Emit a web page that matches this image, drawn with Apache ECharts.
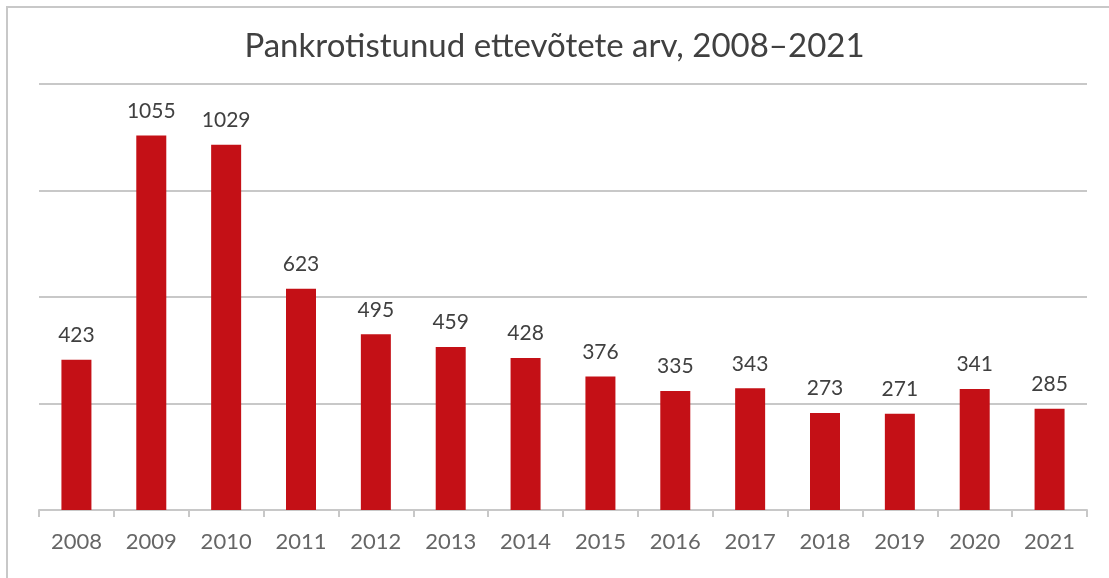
<!DOCTYPE html>
<html>
<head>
<meta charset="utf-8">
<script src="https://cdn.jsdelivr.net/npm/echarts@6/dist/echarts.min.js"></script>
<style>
html,body{margin:0;padding:0;background:#fff;}
#chart{width:1109px;height:578px;}
</style>
</head>
<body>
<div id="chart"></div>
<script>
const categories = ["2008","2009","2010","2011","2012","2013","2014","2015","2016","2017","2018","2019","2020","2021"];
const values = [423,1055,1029,623,495,459,428,376,335,343,273,271,341,285];
const titleText = "Pankrotistunud ettevõtete arv, 2008–2021";

const chart = echarts.init(document.getElementById('chart'));
chart.setOption({
  animation: false,
  backgroundColor: '#ffffff',
  title: {
    text: titleText,
    left: 'center',
    top: 25,
    textStyle: {fontFamily: 'Lato', fontWeight: 'normal', fontSize: 33, color: '#404040'}
  },
  graphic: [{
    type: 'rect',
    shape: {x: 7, y: 7, width: 1300, height: 800},
    style: {fill: 'none', stroke: '#c8c8c8', lineWidth: 2},
    silent: true
  }],
  grid: {left: 39, right: 22, top: 84, bottom: 68, containLabel: false},
  xAxis: {
    type: 'category',
    data: categories,
    axisLine: {lineStyle: {color: '#c8c8c8', width: 2}},
    axisTick: {show: true, length: 7, lineStyle: {color: '#c8c8c8', width: 2}},
    axisLabel: {fontFamily: 'Lato', fontSize: 22, color: '#666666', margin: 21}
  },
  yAxis: {
    type: 'value',
    min: 0,
    max: 1200,
    interval: 300,
    axisLabel: {show: false},
    axisLine: {show: false},
    axisTick: {show: false},
    splitLine: {lineStyle: {color: '#c8c8c8', width: 2}}
  },
  series: [{
    type: 'bar',
    data: values,
    barWidth: 30,
    itemStyle: {color: '#c41016'},
    label: {
      show: true,
      position: 'top',
      distance: 14,
      fontFamily: 'Lato',
      fontSize: 21,
      color: '#404040'
    }
  }]
});
</script>
</body>
</html>
